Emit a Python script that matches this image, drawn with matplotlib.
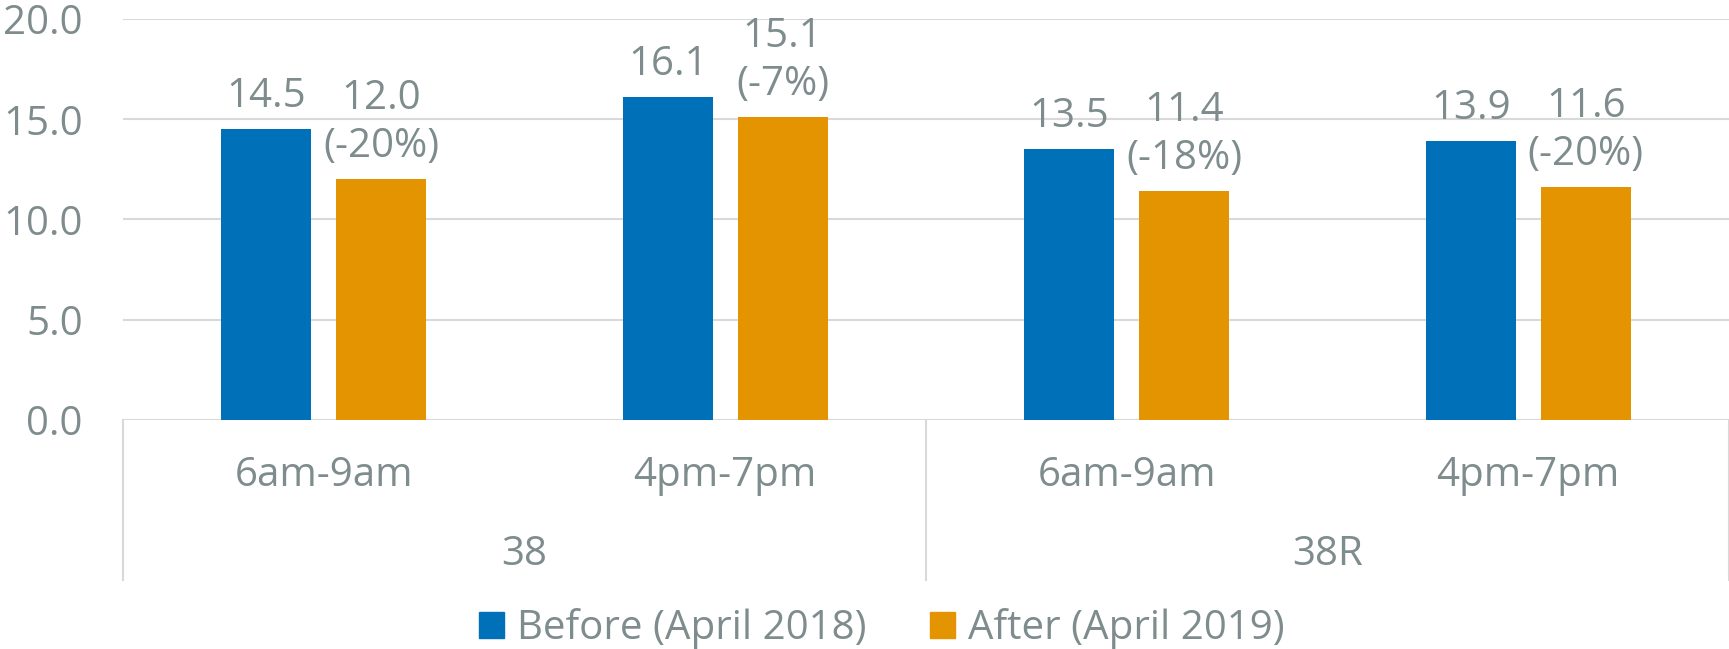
import matplotlib

matplotlib.use("Agg")

import matplotlib.pyplot as plt
from matplotlib.lines import Line2D
from matplotlib.patches import Patch

plt.rcParams["font.family"] = ["Open Sans", "DejaVu Sans"]

# data
periods = ["6am-9am", "4pm-7pm", "6am-9am", "4pm-7pm"]
routes = ["38", "38R"]
before = [14.5, 16.1, 13.5, 13.9]
after = [12.0, 15.1, 11.4, 11.6]
change_pct = [-20, -7, -18, -20]
series_names = ["Before (April 2018)", "After (April 2019)"]

BLUE = "#0070B8"
ORANGE = "#E39400"
TEXT = "#7F8C8D"
GRID = "#D9D9D9"
FS = 29

fig = plt.figure(figsize=(17.29, 6.49), dpi=100)
ax = fig.add_axes([0.0711, 0.3529, 0.9289, 0.6178])

x = list(range(len(periods)))
width = 0.224
off = 0.143
b1 = ax.bar([i - off for i in x], before, width, color=BLUE, zorder=3)
b2 = ax.bar([i + off for i in x], after, width, color=ORANGE, zorder=3)

for rect, v in zip(b1, before):
    ax.annotate(f"{v:.1f}", (rect.get_x() + rect.get_width() / 2, v),
                xytext=(0, 9), textcoords="offset points",
                ha="center", va="bottom", fontsize=FS, color=TEXT)
for rect, v, p in zip(b2, after, change_pct):
    ax.annotate(f"{v:.1f}\n({p}%)", (rect.get_x() + rect.get_width() / 2, v),
                xytext=(0, 9), textcoords="offset points",
                ha="center", va="bottom", fontsize=FS, color=TEXT,
                linespacing=1.23)

ax.set_xlim(-0.5, 3.5)
ax.set_ylim(0, 20)
ax.set_yticks([0, 5, 10, 15, 20])
ax.set_yticklabels([f"{t:.1f}" for t in [0, 5, 10, 15, 20]])
ax.tick_params(axis="y", length=0, pad=29, labelsize=FS, labelcolor=TEXT)
ax.set_xticks([])
ax.grid(axis="y", color=GRID, linewidth=1.5, zorder=0)
for s in ax.spines.values():
    s.set_visible(False)

# two-level category axis
tr = ax.get_xaxis_transform()
for i, lab in enumerate(periods):
    ax.text(i, -0.138, lab, transform=tr, ha="center", va="center",
            fontsize=FS, color=TEXT)
for j, lab in enumerate(routes):
    ax.text(2 * j + 0.5, -0.337, lab, transform=tr, ha="center", va="center",
            fontsize=FS, color=TEXT)
for xs in [-0.5, 1.5, 3.5]:
    ax.add_line(Line2D([xs, xs], [0, -0.399], transform=tr, color=GRID,
                       linewidth=1.5, clip_on=False))

handles = [Patch(color=BLUE), Patch(color=ORANGE)]
fig.legend(handles, series_names, loc="center", bbox_to_anchor=(0.51, 0.031),
           ncol=2, frameon=False, fontsize=FS, labelcolor=TEXT,
           handlelength=0.6, handleheight=0.6, handletextpad=0.32,
           columnspacing=1.6, borderaxespad=0, borderpad=0)

fig.savefig("out.png", dpi=100)
